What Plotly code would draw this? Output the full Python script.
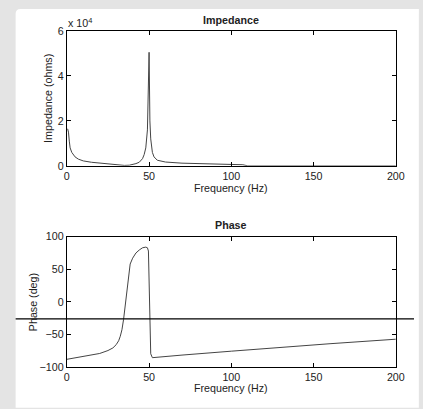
import plotly.graph_objects as go

# ---- data ----
imp_freq = [0.5, 1, 1.5, 2, 3, 4, 5, 7, 10, 15, 20, 25, 30, 35, 38, 40, 42, 44, 45, 46, 47, 48, 49,
            49.5, 50, 50.5, 51, 52, 53, 55, 60, 70, 80, 90, 100, 107, 110, 150, 200]
imp_val = [1.65e4, 1.5e4, 1.1e4, 0.8e4, 0.6e4, 0.48e4, 0.4e4, 0.3e4, 0.22e4, 0.16e4, 0.12e4, 0.08e4,
           0.04e4, 0.02e4, 0.03e4, 0.06e4, 0.1e4, 0.16e4, 0.22e4, 0.32e4, 0.5e4, 0.8e4, 1.6e4,
           3.0e4, 5.05e4, 2.0e4, 1.2e4, 0.6e4, 0.4e4, 0.25e4, 0.17e4, 0.12e4, 0.1e4, 0.08e4, 0.06e4,
           0.05e4, 0.0, 0.0, 0.0]

ph_freq = [0, 10, 20, 25, 28, 30, 31.5, 32.5, 33.5, 34.5, 35.5, 36.5, 37.5, 38.5, 40, 42, 44, 46, 48,
           49, 49.6, 50.1, 50.6, 51, 52, 55, 70, 100, 130, 160, 200]
ph_val = [-88.5, -84, -79.5, -75, -71, -66, -60, -53, -43, -27, -5, 20, 45, 58, 67, 75, 79.5, 83, 84,
          83, 78, 32, -40, -80, -86, -85.5, -82, -76, -70, -64.5, -57.6]

x_ticks = [0, 50, 100, 150, 200]
imp_ticks = [0, 2e4, 4e4, 6e4]
imp_ticktext = ["0", "2", "4", "6"]
ph_ticks = [-100, -50, 0, 50, 100]

W, H = 423, 409
def px(x):
    return x / W
def py(y):
    return 1 - y / H

FONT = "Liberation Sans, Arial, Helvetica, sans-serif"
TXT = "#222"
LINE = "#444"

fig = go.Figure()
fig.add_trace(go.Scatter(x=imp_freq, y=imp_val, mode="lines", line=dict(color=LINE, width=1),
                         xaxis="x", yaxis="y", showlegend=False, hoverinfo="skip"))
fig.add_trace(go.Scatter(x=ph_freq, y=ph_val, mode="lines", line=dict(color=LINE, width=1),
                         xaxis="x2", yaxis="y2", showlegend=False, hoverinfo="skip"))

axis_common = dict(showline=True, linecolor="black", linewidth=1, mirror="ticks", ticks="inside",
                   ticklen=4, tickcolor="black", showgrid=False, zeroline=False,
                   tickfont=dict(family=FONT, size=10.7, color=TXT), fixedrange=True)

xd = [px(65.7), px(404.3)]
fig.update_layout(
    width=W, height=H, margin=dict(l=0, r=0, t=0, b=0),
    paper_bgcolor="#e4e4e4", plot_bgcolor="white",
    font=dict(family=FONT, size=10.7, color=TXT),
    xaxis=dict(domain=xd, range=[0, 200], tickvals=x_ticks, anchor="y", **axis_common),
    yaxis=dict(domain=[py(164.7), py(25.7)], range=[0, 6e4], tickvals=imp_ticks,
               ticktext=imp_ticktext, anchor="x", **axis_common),
    xaxis2=dict(domain=xd, range=[0, 200], tickvals=x_ticks, anchor="y2", **axis_common),
    yaxis2=dict(domain=[py(371.7), py(237.7)], range=[-100, 100], tickvals=ph_ticks,
                anchor="x2", **axis_common),
)

# white card with rounded top-left corner
r = 5
x0, y0 = 13, 3
path = (f"M {px(x0)},{py(H + 5)} L {px(x0)},{py(y0 + r)} "
        f"Q {px(x0)},{py(y0)} {px(x0 + r)},{py(y0)} "
        f"L {px(W + 5)},{py(y0)} L {px(W + 5)},{py(H + 5)} Z")
fig.add_shape(type="path", path=path, xref="paper", yref="paper", fillcolor="white",
              line=dict(width=0), layer="below")
# horizontal rule across the page
fig.add_shape(type="line", xref="paper", yref="paper", x0=px(13), x1=1.0, y0=py(322.3), y1=py(322.3),
              line=dict(color="black", width=1.3), layer="above")

def ann(text, x, y, size=10.7, bold=False, angle=0, xanchor="center", yanchor="middle"):
    fig.add_annotation(text=f"<b>{text}</b>" if bold else text, x=px(x), y=py(y),
                       xref="paper", yref="paper", showarrow=False, textangle=angle,
                       xanchor=xanchor, yanchor=yanchor,
                       font=dict(family=FONT, size=size, color=TXT))

ann("Impedance", 235, 14, bold=True)
ann("x 10<sup>4</sup>", 65, 17, xanchor="left")
ann("Frequency (Hz)", 235, 188)
ann("Impedance (ohms)", 47, 95, angle=-90)
ann("Phase", 235, 226, bold=True)
ann("Frequency (Hz)", 235, 394)
ann("Phase (deg)", 31, 305, angle=-90)

fig.write_html("out.html")
